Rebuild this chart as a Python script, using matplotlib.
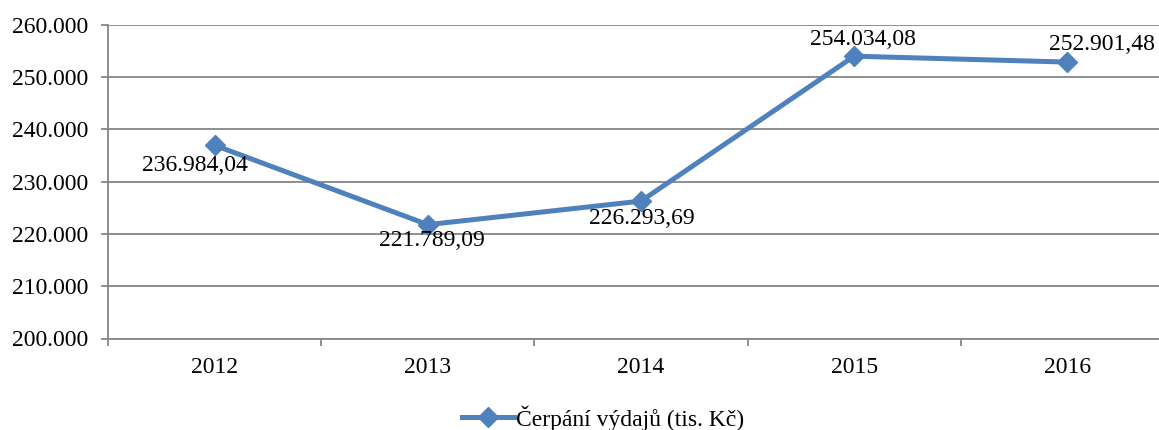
import matplotlib
matplotlib.use("Agg")
import matplotlib.pyplot as plt
from matplotlib.ticker import FixedLocator, FuncFormatter

years = ["2012", "2013", "2014", "2015", "2016"]
values = [236984.04, 221789.09, 226293.69, 254034.08, 252901.48]
series_name = "Čerpání výdajů (tis. Kč)"
label_offsets = [(-20, -20), (4, -16), (1, -17), (9, 17), (35, 18)]  # pixels

plt.rcParams['font.family'] = ['Liberation Serif', 'DejaVu Serif']

def cz(v, dec=2):
    s = f"{v:,.{dec}f}"
    return s.replace(",", "X").replace(".", ",").replace("X", ".")

W, H = 1159, 430
fig = plt.figure(figsize=(W / 100, H / 100), dpi=100)
ax = fig.add_axes([108 / W, 91.5 / H, 1066 / W, 313.5 / H])

color = "#4F81BD"
grid_c = "#868686"
x = list(range(len(years)))
line, = ax.plot(x, values, color=color, lw=3.6, marker="D", markersize=10,
                markeredgecolor=color, markerfacecolor=color, zorder=3,
                clip_on=False, label=series_name)

ax.set_xlim(-0.5, len(years) - 0.5)
ax.set_ylim(200000, 260000)
ax.set_yticks(range(200000, 260001, 10000))
ax.yaxis.set_major_formatter(FuncFormatter(lambda v, p: cz(v, 0)))
ax.set_xticks(x)
ax.set_xticklabels(years)
ax.xaxis.set_minor_locator(FixedLocator([i - 0.5 for i in range(len(years) + 1)]))

ax.tick_params(axis="x", which="major", length=0, pad=13, labelsize=17, colors="black")
ax.tick_params(axis="x", which="minor", length=5, width=1.3, color=grid_c)
ax.tick_params(axis="y", length=5, width=1.3, color=grid_c, pad=9, labelsize=17, labelcolor="black")

ax.grid(axis="y", color=grid_c, lw=1.3, zorder=0)
for s in ["top", "right"]:
    ax.spines[s].set_visible(False)
for s in ["left", "bottom"]:
    ax.spines[s].set_color(grid_c)
    ax.spines[s].set_linewidth(1.3)

for xi, v, (dx, dy) in zip(x, values, label_offsets):
    ax.annotate(cz(v), (xi, v), xytext=(dx * 0.72, dy * 0.72), textcoords="offset points",
                ha="center", va="center", fontsize=17, zorder=4, annotation_clip=False)

fig.legend(handles=[line], labels=[series_name], loc="center", bbox_to_anchor=(603 / W, 1 - 418 / H),
           frameon=False, fontsize=17, handlelength=2.2, handletextpad=0.1)

fig.savefig("out.png", dpi=100)
